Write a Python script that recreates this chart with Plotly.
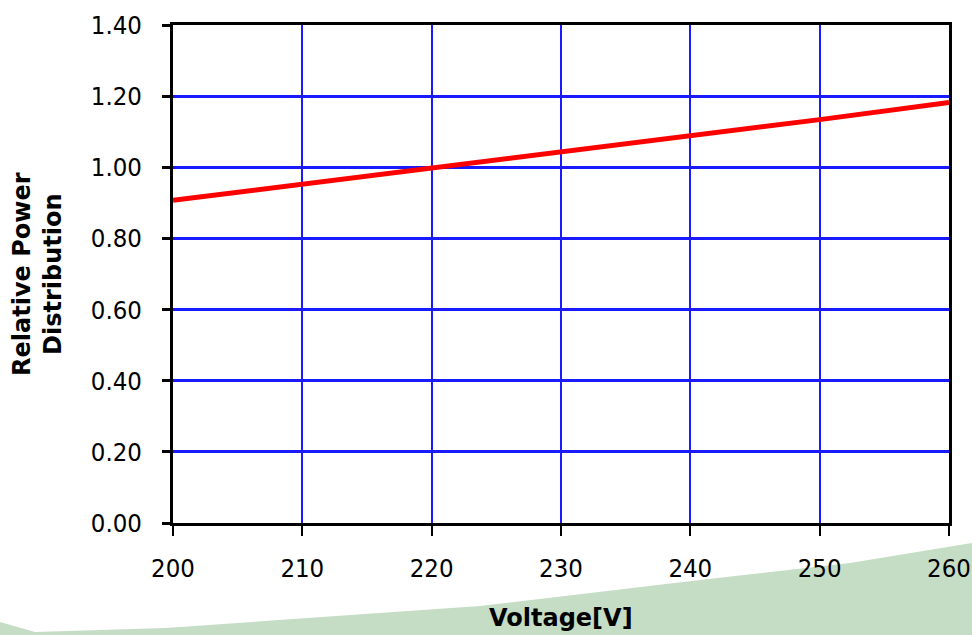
import plotly.graph_objects as go

voltage = [200, 210, 220, 230, 240, 250, 260]
relative_power = [0.907, 0.952, 0.997, 1.042, 1.088, 1.134, 1.182]
y_ticks = [0.0, 0.2, 0.4, 0.6, 0.8, 1.0, 1.2, 1.4]
x_ticks = [200, 210, 220, 230, 240, 250, 260]

W, H = 972, 635
L, R, T, B = 173, 23, 25, 112
pw, ph = W - L - R, H - T - B

def px(x, y):
    return (x - L) / pw, (H - B - y) / ph

green_pts = [(0, 622), (35, 632), (166, 628), (480, 606), (700, 580),
             (850, 563), (972, 543), (972, 640), (0, 640)]
path = ""
for i, (a, b) in enumerate(green_pts):
    X, Y = px(a, b)
    path += ("M" if i == 0 else "L") + f"{X:.4f},{Y:.4f} "
path += "Z"

tick_font = dict(family="DejaVu Sans Condensed, DejaVu Sans, sans-serif", size=25.5, color="black")
title_font = dict(family="DejaVu Sans, sans-serif", size=24, color="black", weight="bold")

fig = go.Figure()
fig.add_trace(go.Scatter(x=voltage, y=relative_power, mode="lines",
                         line=dict(color="#ff0000", width=5), showlegend=False,
                         cliponaxis=False))

fig.update_layout(
    width=W, height=H,
    margin=dict(l=L, r=R, t=T, b=B, autoexpand=False),
    paper_bgcolor="white", plot_bgcolor="white",
    shapes=[dict(type="path", xref="paper", yref="paper", path=path,
                 fillcolor="#c5dcc5", line=dict(width=0), layer="below")],
    annotations=[
        dict(text="Voltage[V]", xref="paper", yref="paper", x=0.5, y=px(0, 618)[1],
             xanchor="center", yanchor="middle", showarrow=False, font=title_font),
        dict(text="Relative Power<br>Distribution", xref="paper", yref="paper",
             x=px(37, 0)[0], y=0.5, xanchor="center", yanchor="middle",
             textangle=-90, showarrow=False, font=title_font),
    ],
)
fig.update_xaxes(range=[200, 260], tickvals=x_ticks, ticktext=[str(v) for v in x_ticks],
                 showgrid=True, gridcolor="#1a1aff", gridwidth=1.5,
                 showline=True, linecolor="black", linewidth=3, mirror=True,
                 ticks="outside", ticklen=10, tickwidth=2, tickcolor="black",
                 ticklabelstandoff=10, tickfont=tick_font, zeroline=False,
                 automargin=False)
fig.update_yaxes(range=[0, 1.4], tickvals=y_ticks, ticktext=[f"{v:.2f}" for v in y_ticks],
                 showgrid=True, gridcolor="#1a1aff", gridwidth=3,
                 showline=True, linecolor="black", linewidth=3, mirror=True,
                 ticks="outside", ticklen=8, tickwidth=3, tickcolor="black",
                 ticklabelstandoff=15, tickfont=tick_font, zeroline=False,
                 automargin=False)

fig.write_html("out.html", config={"displayModeBar": False},
               post_script="document.body.style.margin='0';document.body.style.overflow='hidden';")
